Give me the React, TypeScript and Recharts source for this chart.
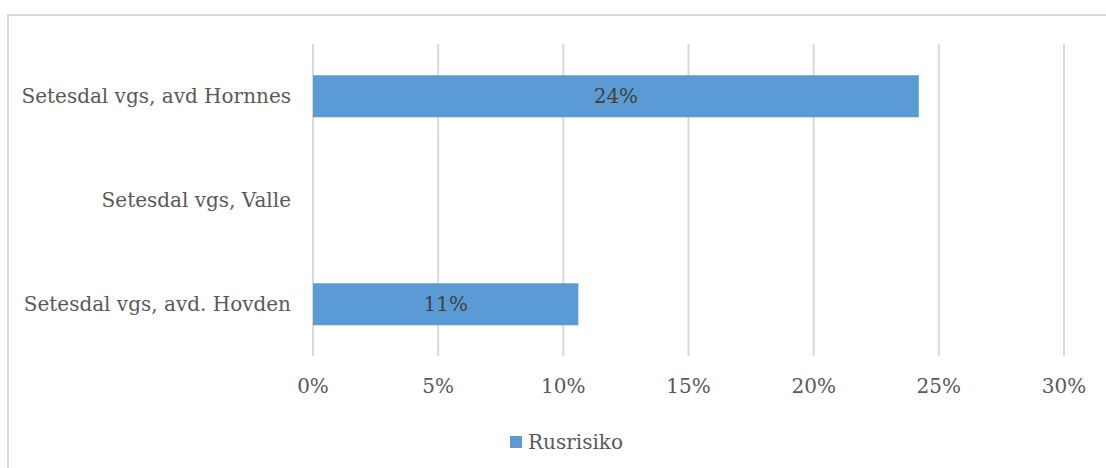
import { BarChart, Bar, XAxis, YAxis, CartesianGrid, Legend, LabelList } from "recharts"

const schools = ["Setesdal vgs, avd Hornnes", "Setesdal vgs, Valle", "Setesdal vgs, avd. Hovden"]
const rusrisiko: (number | null)[] = [0.242, null, 0.106]
const xTicks = [0, 0.05, 0.1, 0.15, 0.2, 0.25, 0.3]

const data = schools.map((name, i) => ({ name, Rusrisiko: rusrisiko[i] }))

const font = "'DejaVu Serif', serif"
const pct = (v: any) => (v == null ? "" : `${Math.round(v * 100)}%`)

const LegendContent = ({ payload }: any) => (
  <div style={{ display: "flex", alignItems: "center", fontFamily: font, fontSize: 20, color: "#595959" }}>
    {(payload || []).map((p: any) => (
      <span key={p.value} style={{ display: "flex", alignItems: "center" }}>
        <span style={{ width: 12, height: 12, background: p.color, marginRight: 6, display: "inline-block" }} />
        {p.value}
      </span>
    ))}
  </div>
)

export default function App() {
  return (
    <div style={{ position: "fixed", left: 0, top: 0, width: 1106, height: 468, background: "#fff", overflow: "hidden" }}>
      <div
        style={{
          position: "absolute",
          left: 7,
          top: 14,
          width: 1120,
          height: 480,
          border: "2px solid #d9d9d9",
        }}
      />
      <div style={{ position: "absolute", left: 0, top: 0 }}>
        <BarChart
          width={1106}
          height={468}
          data={data}
          layout="vertical"
          barCategoryGap="30%"
          margin={{ top: 44, right: 42, left: 0, bottom: 30 }}
        >
          <CartesianGrid horizontal={false} stroke="#d9d9d9" strokeWidth={2} />
          <XAxis
            type="number"
            domain={[0, 0.3]}
            ticks={xTicks}
            tickFormatter={pct}
            axisLine={false}
            tickLine={false}
            tickSize={0}
            tickMargin={23}
            height={58}
            tick={{ fill: "#595959", fontSize: 20, fontFamily: font }}
          />
          <YAxis
            type="category"
            dataKey="name"
            width={313}
            axisLine={false}
            tickLine={false}
            tickSize={0}
            tickMargin={22}
            tick={{ fill: "#595959", fontSize: 20, fontFamily: font }}
          />
          <Legend
            verticalAlign="bottom"
            content={<LegendContent />}
            wrapperStyle={{ left: 510, width: "auto", bottom: 14 }}
          />
          <Bar dataKey="Rusrisiko" fill="#5b9bd5" isAnimationActive={false}>
            <LabelList
              dataKey="Rusrisiko"
              position="center"
              formatter={pct}
              style={{ fill: "#404040", fontSize: 20, fontFamily: font }}
            />
          </Bar>
        </BarChart>
      </div>
    </div>
  )
}
